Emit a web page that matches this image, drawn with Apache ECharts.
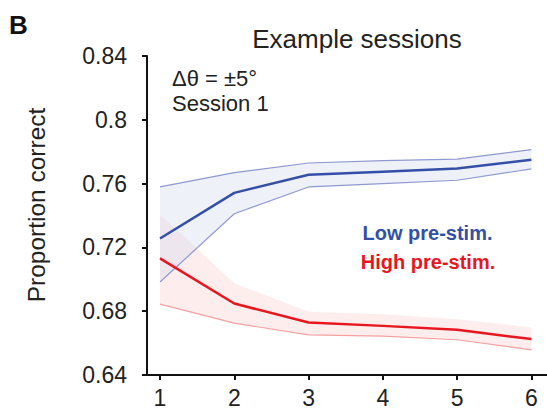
<!DOCTYPE html>
<html>
<head>
<meta charset="utf-8">
<style>
  html, body { margin: 0; padding: 0; background: #fff; }
  #chart { width: 547px; height: 409px; }
</style>
<script src="https://cdn.jsdelivr.net/npm/echarts@6/dist/echarts.min.js"></script>
</head>
<body>
<div id="chart"></div>
<script>
// Session number along the x axis
const sessions = [1, 2, 3, 4, 5, 6];
const xTicks = [1, 2, 3, 4, 5, 6];

// Proportion correct, low pre-stimulus condition (mean and band limits)
const lowMean  = [0.7256, 0.7542, 0.7656, 0.7675, 0.7694, 0.7750];
const lowUpper = [0.7579, 0.7669, 0.7729, 0.7744, 0.7754, 0.7813];
const lowLower = [0.6983, 0.7411, 0.7579, 0.7600, 0.7621, 0.7692];

// Proportion correct, high pre-stimulus condition (mean and band limits)
const highMean  = [0.7131, 0.6848, 0.6729, 0.6708, 0.6683, 0.6625];
const highUpper = [0.7406, 0.6975, 0.6796, 0.6781, 0.6750, 0.6698];
const highLower = [0.6844, 0.6725, 0.6652, 0.6644, 0.6621, 0.6558];

const FONT = '"Liberation Sans", Arial, Helvetica, sans-serif';
const BLUE = '#3450a6';
const RED = '#e8161e';

const pairs = (ys) => sessions.map((x, i) => [x, ys[i]]);

// Shaded band between a lower and an upper curve, drawn as one polygon
function bandSeries(name, lower, upper, fill) {
  return {
    name, type: 'custom', silent: true,
    data: [0],
    renderItem: (params, api) => {
      const pts = [];
      sessions.forEach((x, i) => pts.push(api.coord([x, upper[i]])));
      for (let i = sessions.length - 1; i >= 0; i--) pts.push(api.coord([sessions[i], lower[i]]));
      return { type: 'polygon', shape: { points: pts }, style: { fill } };
    }
  };
}

const chart = echarts.init(document.getElementById('chart'), null, { renderer: 'svg' });

chart.setOption({
  animation: false,
  backgroundColor: '#ffffff',
  grid: { left: 147, right: 0, top: 56, bottom: 33, containLabel: false },
  xAxis: {
    type: 'value',
    min: 0.825,
    max: 6.21,
    splitLine: { show: false },
    axisLine: { show: true, onZero: false, lineStyle: { color: '#111', width: 2 } },
    axisTick: { show: true, customValues: xTicks, length: 5, inside: false,
                lineStyle: { color: '#111', width: 2 } },
    axisLabel: { customValues: xTicks, margin: 11, color: '#222',
                 fontSize: 23, fontFamily: FONT }
  },
  yAxis: {
    type: 'value',
    min: 0.64,
    max: 0.84,
    interval: 0.04,
    splitLine: { show: false },
    axisLine: { show: true, lineStyle: { color: '#111', width: 2 } },
    axisTick: { show: true, length: 5, lineStyle: { color: '#111', width: 2 } },
    axisLabel: { margin: 20, color: '#222', fontSize: 23, fontFamily: FONT,
                 formatter: (v) => String(+v.toFixed(2)) }
  },
  series: [
    bandSeries('highBand', highLower, highUpper, 'rgba(248, 200, 200, 0.32)'),
    bandSeries('lowBand', lowLower, lowUpper, 'rgba(212, 219, 240, 0.38)'),
    {
      name: 'highLowerEdge', type: 'line', data: pairs(highLower),
      symbol: 'none', silent: true,
      lineStyle: { color: '#f6a0a0', width: 1.2 }
    },
    {
      name: 'lowUpperEdge', type: 'line', data: pairs(lowUpper),
      symbol: 'none', silent: true,
      lineStyle: { color: '#8e99d2', width: 1.2 }
    },
    {
      name: 'lowLowerEdge', type: 'line', data: pairs(lowLower),
      symbol: 'none', silent: true,
      lineStyle: { color: '#8e99d2', width: 1.2 }
    },
    // condition means
    {
      name: 'High pre-stim.', type: 'line', data: pairs(highMean),
      symbol: 'none', lineStyle: { color: RED, width: 2.5 }
    },
    {
      name: 'Low pre-stim.', type: 'line', data: pairs(lowMean),
      symbol: 'none', lineStyle: { color: BLUE, width: 2.5 }
    }
  ],
  graphic: [
    { type: 'text', left: 9, top: 12,
      style: { text: 'B', fontSize: 26, fontWeight: 'bold', fontFamily: FONT, fill: '#111' } },
    { type: 'text', x: 357, y: 38.5,
      style: { text: 'Example sessions', fontSize: 26, fontFamily: FONT, fill: '#222',
               align: 'center', verticalAlign: 'middle' } },
    { type: 'text', x: 36, y: 205, rotation: Math.PI / 2,
      style: { text: 'Proportion correct', fontSize: 24.5, fontFamily: FONT, fill: '#222',
               align: 'center', verticalAlign: 'middle' } },
    { type: 'text', x: 172, y: 78,
      style: { text: 'Δθ = ±5°', fontSize: 22, fontFamily: FONT, fill: '#222',
               align: 'left', verticalAlign: 'middle' } },
    { type: 'text', x: 172, y: 103,
      style: { text: 'Session 1', fontSize: 22, fontFamily: FONT, fill: '#222',
               align: 'left', verticalAlign: 'middle' } },
    { type: 'text', x: 427.5, y: 233,
      style: { text: 'Low pre-stim.', fontSize: 20, fontWeight: 'bold', fontFamily: FONT,
               fill: BLUE, align: 'center', verticalAlign: 'middle' } },
    { type: 'text', x: 428, y: 262,
      style: { text: 'High pre-stim.', fontSize: 20, fontWeight: 'bold', fontFamily: FONT,
               fill: RED, align: 'center', verticalAlign: 'middle' } }
  ]
});
</script>
</body>
</html>
